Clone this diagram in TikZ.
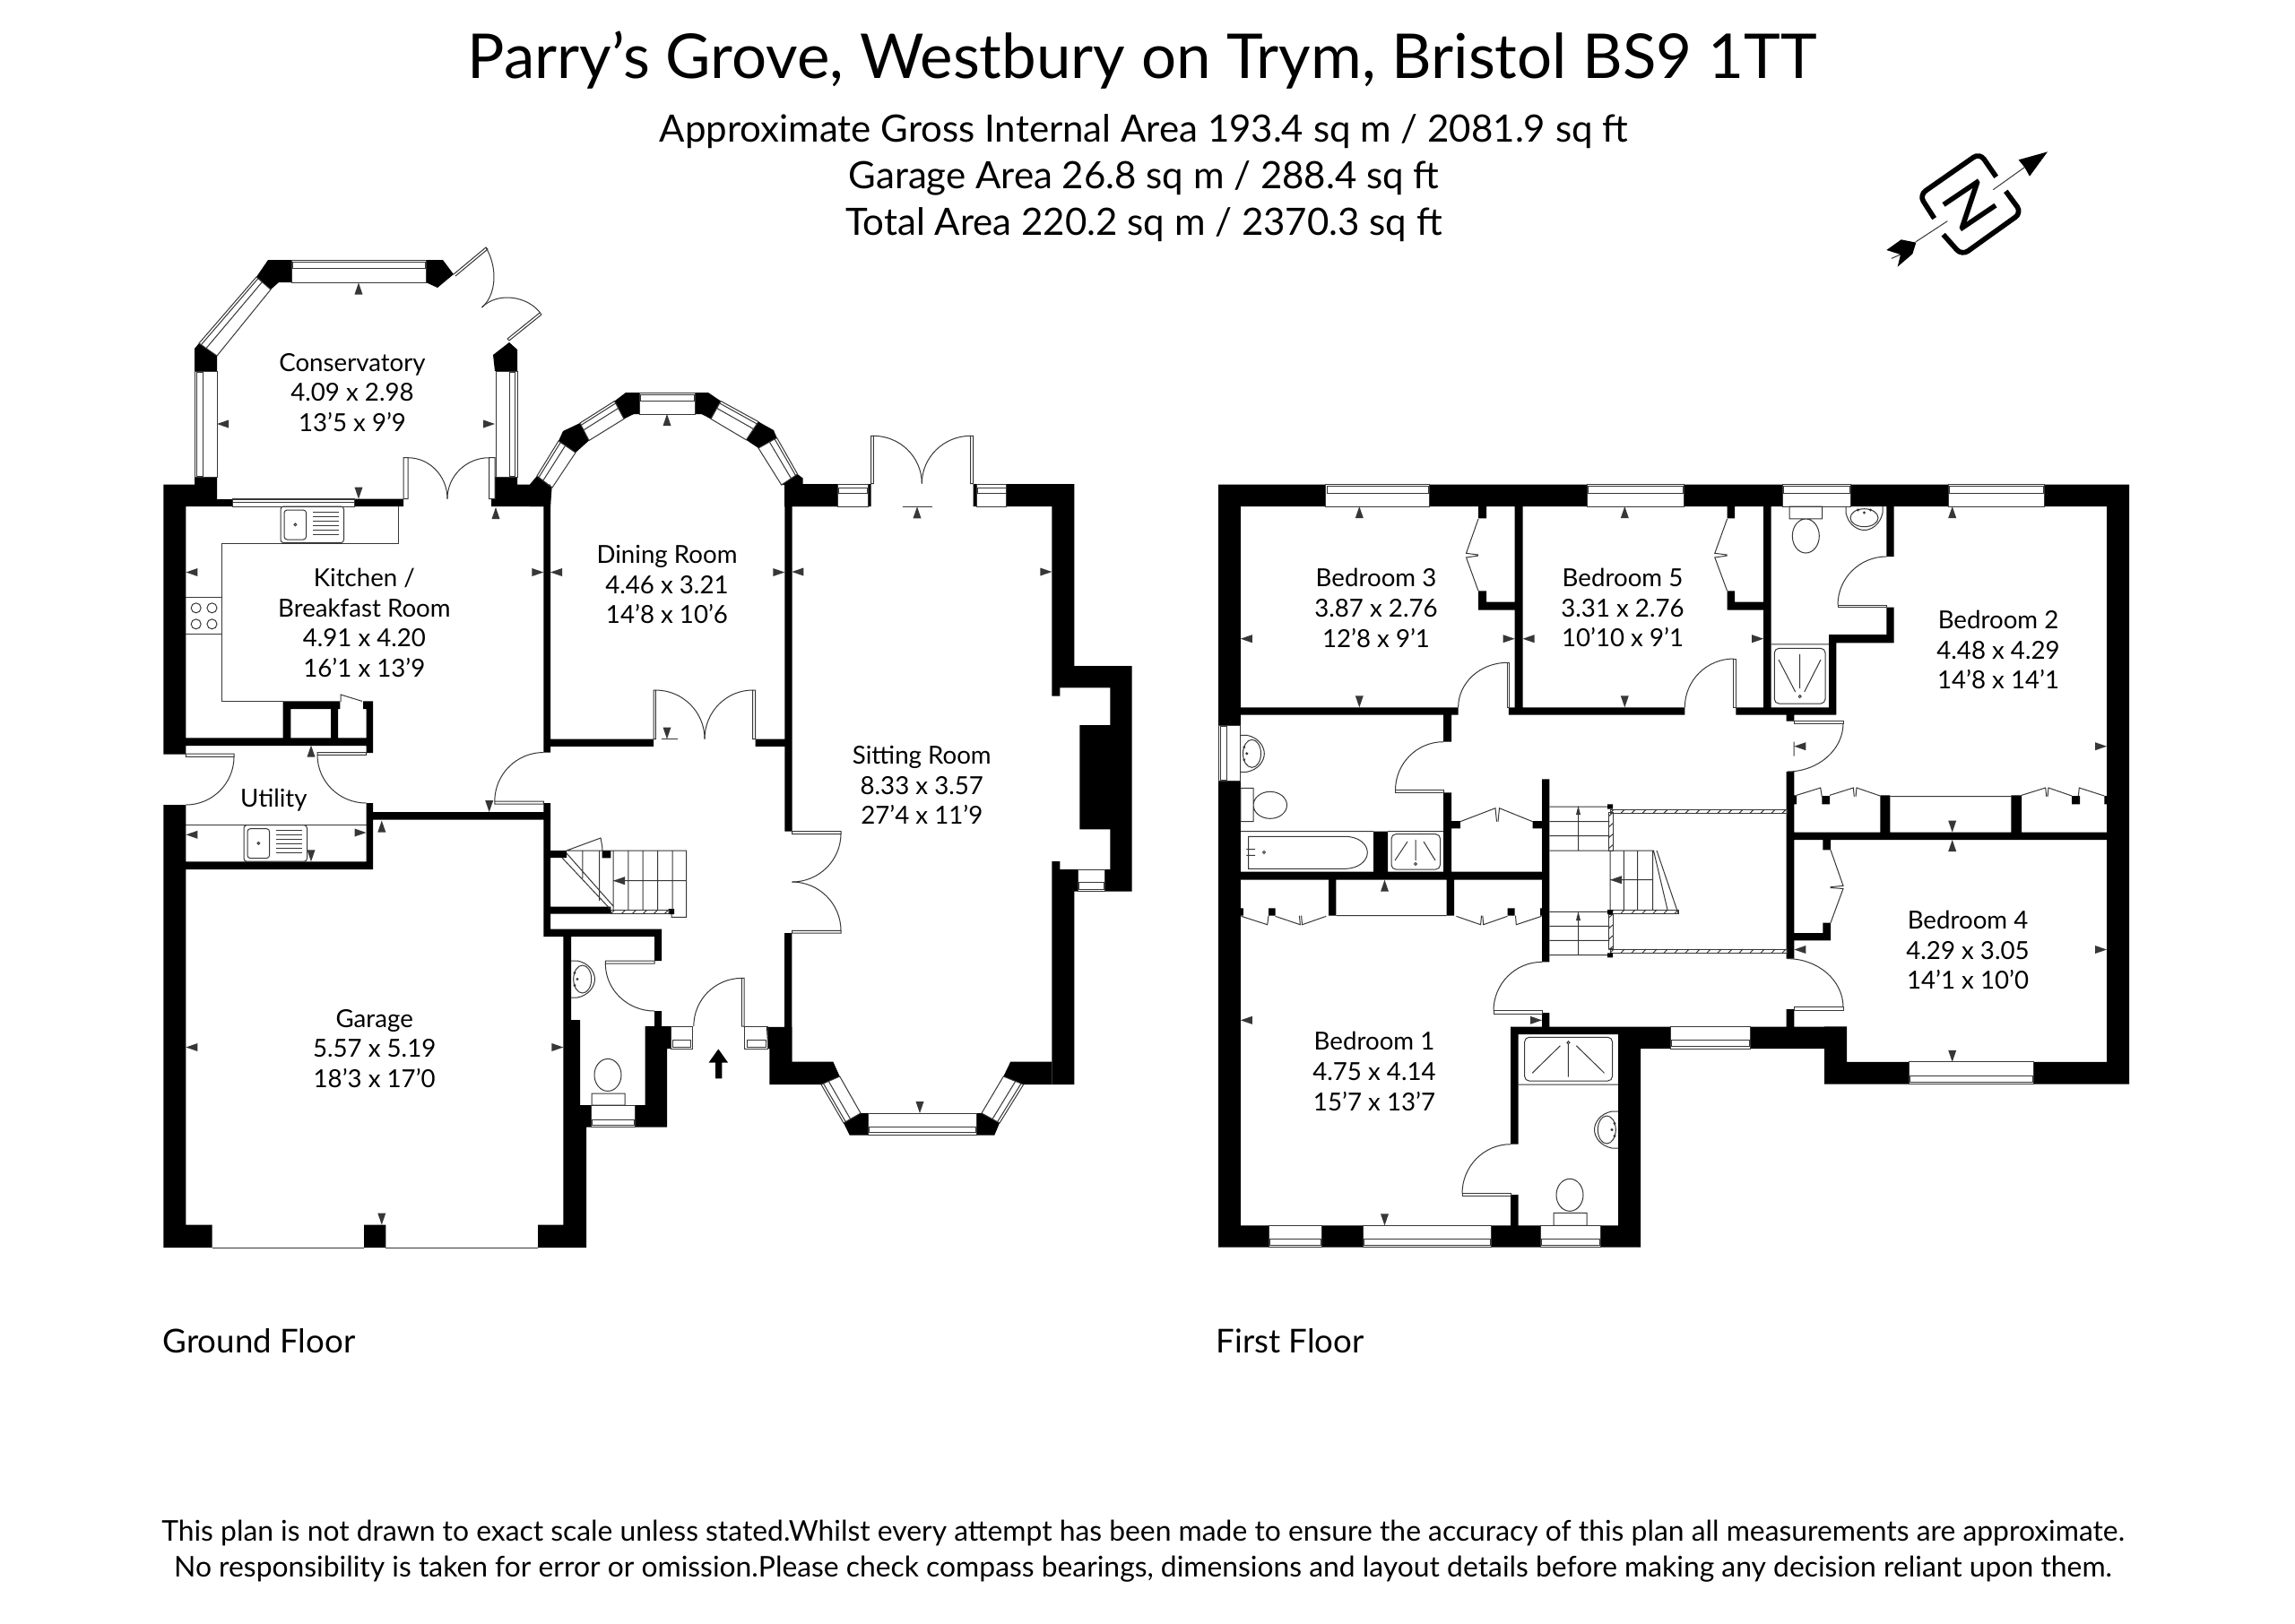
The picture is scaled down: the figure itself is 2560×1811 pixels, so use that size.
\documentclass[tikz,border=0pt]{standalone}
\usepackage{fontspec}
\setmainfont{Lato}
\usetikzlibrary{calc}
\definecolor{planGrey}{RGB}{55,55,55}

\tikzset{
    wall/.style={fill=black, draw=none},
    plan/.style={draw=planGrey, line width=0.3pt},
    roomLabel/.style={align=center, inner sep=0pt, font=\fontsize{8.3}{10.1}\selectfont},
    sinkUnit/.pic={
        \draw[plan, rounded corners=1pt] (0,0) rectangle (70.5,40.6);
        \draw[plan, rounded corners=1pt] (4,4) rectangle (28.6,37);
        \draw[plan] (16.4,20.3) circle [radius=1.4];
        \draw[plan] (36,6) -- (65.4,6) (36,11) -- (65.4,11) (36,16) -- (65.4,16) (36,21) -- (65.4,21) (36,26) -- (65.4,26) (36,31) -- (65.4,31);
    },
    basinUnit/.pic={
        \draw[plan] (0,-20.5) -- (7,-20.5) .. controls (20,-18) and (26.5,-8) .. (26.5,0) .. controls (26.5,8) and (20,18) .. (7,20.5) -- (0,20.5);
        \draw[plan] (12.7,0) ellipse [x radius=10, y radius=15.5];
        \fill[planGrey] (4,-7) circle [radius=1.6] (4,7) circle [radius=1.6];
        \draw[plan] (7,0) circle [radius=1];
    }
}

\newcommand{\doorswing}[4]{\draw[plan] (#1,#2) .. controls ({#1+0.552*(#3-#1)},#2) and (#3,{#4+0.552*(#2-#4)}) .. (#3,#4);}
\newcommand{\windowbox}[8]{\draw[plan] (#1,#2) rectangle (#3,#4) (#5,#6) rectangle (#7,#8);}
\newcommand{\windiag}[4]{\draw[plan] #1 -- #2 -- #3 -- #4 -- cycle ($#1!0.12!#4$) -- ($#2!0.12!#3$) ($#1!0.4!#4$) -- ($#2!0.4!#3$);}
\newcommand{\planmark}[3]{\fill[planGrey, shift={(#1,#2)}, rotate=#3] (0,0) -- (-13,4.5) -- (-13,-4.5) -- cycle;}
\newcommand{\railH}[4]{\draw[plan] (#1,#3) rectangle (#2,#4); \pgfmathsetmacro{\railNext}{#1+12} \foreach \t in {#1,\railNext,...,#2} {\draw[plan] (\t,#4) -- ({\t+4},#3);}}
\newcommand{\railV}[4]{\draw[plan] (#1,#3) rectangle (#2,#4); \pgfmathsetmacro{\railNext}{#3+12} \foreach \t in {#3,\railNext,...,#4} {\draw[plan] (#1,{\t+4}) -- (#2,\t);}}

\begin{document}
\begin{tikzpicture}[x=0.3pt, y=-0.3pt]
    \useasboundingbox[fill=white] (0,0) rectangle (2560,1811);

    % headings
    \node[font=\fontsize{20.7}{26}\selectfont] (titleText) at (1274,67) {Parry’s Grove, Westbury on Trym, Bristol BS9 1TT};
    \node[align=center, font=\fontsize{12.6}{15.6}\selectfont] (areaText) at (1276,199) {Approximate Gross Internal Area 193.4 sq m / 2081.9 sq ft\\Garage Area 26.8 sq m / 288.4 sq ft\\Total Area 220.2 sq m / 2370.3 sq ft};
    \node[anchor=west, inner sep=0pt, font=\fontsize{11}{13}\selectfont] (groundText) at (181,1496) {Ground Floor};
    \node[anchor=west, inner sep=0pt, font=\fontsize{11}{13}\selectfont] (firstText) at (1356,1496) {First Floor};
    \node[align=center, font=\fontsize{9.55}{12}\selectfont] (noteText) at (1275,1731) {This plan is not drawn to exact scale unless stated.Whilst every attempt has been made to ensure the accuracy of this plan all measurements are approximate.\\No responsibility is taken for error or omission.Please check compass bearings, dimensions and layout details before making any decision reliant upon them.};

    % compass
    \begin{scope}[shift={(2080,150)}, scale=0.3333]
        \draw[line width=1.7pt, rounded corners=2.5pt] (233,281) -- (183,203) -- (385,62) -- (440,142);
        \draw[line width=1.7pt, rounded corners=2.5pt] (472,190) -- (525,262) -- (325,405) -- (263,335);
        \node[rotate=-56, inner sep=0pt, font=\fontsize{20}{20}\selectfont] (compassN) at (352,237) {N};
        \draw[plan] (430,185) -- (535,110) (170,360) -- (277,290) (90,415) -- (120,402);
        \fill (515,85) -- (612,58) -- (552,140) -- (535,110) -- cycle;
        \fill (73,387) -- (122,352) -- (172,362) -- (160,400) -- (110,443) -- (120,402) -- cycle;
    \end{scope}

    % ground floor walls
    \fill[wall] (182.4,540.5) rectangle (217,565) (182.4,565) rectangle (207.4,841.7)
        (217,532) rectangle (242,565) (242,557) rectangle (259.5,565) (395,556.6) rectangle (450,565)
        (548,556.6) rectangle (606,565) (552,532) rectangle (577,556.6) (577,540.5) rectangle (614,565)
        (606.4,565) rectangle (614,839.5) (614,824.5) rectangle (729,832.8) (842.5,824.5) rectangle (875.3,832.8)
        (875.3,540) rectangle (883.5,927.7) (606.4,896) rectangle (614,1045) (416,906) rectangle (606.4,914.7)
        (408.5,896) rectangle (416,970) (405,782.4) rectangle (416,791) (408.5,791) rectangle (416,840)
        (207.4,823.3) rectangle (416,832) (315.6,782.4) rectangle (379.4,791) (315.6,791) rectangle (324.3,823.3)
        (369,791) rectangle (377,823.3) (207.4,961.3) rectangle (416,970) (182.4,898) rectangle (207.4,1392)
        (207.4,1366.6) rectangle (236.5,1392) (406,1366.6) rectangle (430.4,1392) (600,1366.6) rectangle (654,1392)
        (628.4,1045) rectangle (637,1138) (628.4,1138) rectangle (647,1233) (628.4,1233) rectangle (659,1257.5)
        (628.4,1257.5) rectangle (654,1392) (606.4,1036.5) rectangle (738,1045) (730,1045) rectangle (738,1072)
        (614,949) rectangle (632,957) (671.7,949) rectangle (681.4,957.4) (614,1011.5) rectangle (681.4,1019.5)
        (745.7,1014) rectangle (752,1020) (730,1128) rectangle (738,1145) (719.7,1145) rectangle (748,1170)
        (719.7,1170) rectangle (744,1257.5) (708.5,1233) rectangle (744,1257.5)
        (875,540) rectangle (934,565) (968.3,540) rectangle (971.7,565) (1085.7,540) rectangle (1089.3,565)
        (1122.7,540) rectangle (1198.3,565) (1173.3,565) rectangle (1198.3,743) (1173.3,743) rectangle (1262.7,767.4)
        (1173.3,767.4) rectangle (1182.3,776.6) (1238.3,767.4) rectangle (1262.7,994.6) (1204.3,809) rectangle (1238.3,925.4)
        (1173.3,961) rectangle (1182.3,970) (1173.3,970) rectangle (1202.7,994.6) (1232,970) rectangle (1238.3,994.6)
        (1173.3,994.6) rectangle (1198.3,1210) (875,1041) rectangle (883.3,1184.5);
    \fill[wall] (299,290) -- (325,290) -- (325,315) -- (311,315) -- (302,323) -- (286,309) -- cycle;
    \fill[wall] (475,290) -- (494,290) -- (506,306) -- (488,321) -- (475,315) -- cycle;
    \fill[wall] (222,383) -- (242,397) -- (242,414) -- (217,414) -- (217,389) -- cycle;
    \fill[wall] (550,396) -- (568,382) -- (577,390) -- (577,414) -- (552,414) -- cycle;
    \fill[wall] (591,540.5) -- (599,531) -- (615.6,544) -- (614,565) -- (591,565) -- cycle;
    \fill[wall] (623,492) -- (628,481) -- (647,472) -- (657,491.5) -- (642,505) -- cycle;
    \fill[wall] (685.5,447.5) -- (698,438) -- (713.5,438) -- (713.5,462) -- (707,462) -- (696,467.4) -- cycle;
    \fill[wall] (775,438) -- (790,438) -- (804,447.5) -- (793,467.4) -- (782.4,462) -- (775,462) -- cycle;
    \fill[wall] (846,470.5) -- (863,480) -- (866.6,488.5) -- (846,500) -- (832.4,490.8) -- cycle;
    \fill[wall] (889.6,529) -- (895.7,533.6) -- (895.7,540.5) -- (934,540.5) -- (934,565) -- (875.3,565) -- (875.3,541) -- (871.7,541) -- cycle;
    \fill[wall] (855,1145.9) -- (883.3,1145.9) -- (883.3,1184.5) -- (929.3,1184.5) -- (936.7,1201) -- (916,1210) -- (858.3,1210) -- (858.3,1170) -- (856.4,1170) -- cycle;
    \fill[wall] (1173.3,1184.5) -- (1127.3,1184.5) -- (1119.3,1201) -- (1141.7,1210) -- (1173.3,1210) -- cycle;
    \fill[wall] (1095,1242) -- (1115,1253) -- (1109.3,1266.5) -- (1089.3,1266.5) -- (1089.3,1242) -- cycle;
    \fill[wall] (968.7,1242) -- (960,1242) -- (941,1253) -- (947.7,1266.5) -- (968.7,1266.5) -- cycle;

    % ground floor windows
    \windowbox{325}{290}{475}{315}{326}{292.5}{474}{299.4}
    \windowbox{217}{414}{242}{532}{219}{415}{226}{531}
    \windowbox{553}{414}{577}{532}{568}{415}{574}{531}
    \windowbox{259.5}{556.6}{395}{565}{259.5}{557.5}{395}{560}
    \windowbox{713.5}{438}{775}{462}{714}{440}{774.5}{447}
    \windowbox{934}{540}{968.3}{565}{935}{544}{967.5}{550}
    \windowbox{1089.3}{540}{1122.7}{565}{1090}{544}{1122}{550}
    \windowbox{1202.7}{970}{1232}{994.6}{1203.5}{984}{1231}{992}
    \windowbox{968.7}{1242}{1089.3}{1266.5}{969.5}{1257}{1088.5}{1263}
    \windowbox{748}{1145}{772}{1170}{750}{1160}{770}{1168}
    \windowbox{830}{1145}{856.4}{1170}{833}{1160}{854}{1168}
    \windowbox{659}{1233}{708.5}{1257.5}{660}{1249}{707.5}{1255}
    \windiag{(286,309)}{(222,383)}{(242,397)}{(302,323)}
    \windiag{(599,531)}{(623,492)}{(642,505)}{(616,544)}
    \windiag{(647,472)}{(685.5,447.5)}{(696,467.4)}{(657,491.5)}
    \windiag{(804,447.5)}{(846,470.5)}{(832.4,490.8)}{(793,467.4)}
    \windiag{(866.6,488.5)}{(889.6,529)}{(871.7,541)}{(846,500)}
    \windiag{(916,1210)}{(941,1253)}{(960,1242)}{(936.7,1201)}
    \windiag{(1141.7,1210)}{(1115,1253)}{(1095,1242)}{(1119.3,1201)}

    % ground floor doors
    \draw[plan] (450,510.7) rectangle (455,556.6) (545.7,510.7) rectangle (552,556.6)
        (729,770) rectangle (731.4,824.5) (839.6,770) rectangle (842.5,824.5)
        (971.7,486.3) rectangle (974.3,539.6) (1082.7,486.3) rectangle (1085.7,539.6)
        (883.5,927.7) rectangle (938,930.5) (883.5,1038.4) rectangle (938,1041)
        (551.8,894) rectangle (606.4,897) (207.4,841) rectangle (261,844.3) (354,839.5) rectangle (408.5,842.3)
        (675.3,1072) rectangle (730,1075) (827.3,1091.4) rectangle (830,1145)
        (506,306) -- (542,276) -- (544,278) -- (508,308) (604,351) -- (568,380) -- (566,378) -- (602,349)
        (380,783) -- (380,775) -- (404,782.4);
    \doorswing{455}{510.7}{499}{556.6}
    \doorswing{545.7}{510.7}{499}{556.6}
    \doorswing{731.4}{770}{786}{824.5}
    \doorswing{839.6}{770}{786}{824.5}
    \doorswing{974.3}{486.3}{1028.3}{539.6}
    \doorswing{1082.7}{486.3}{1028.3}{539.6}
    \doorswing{883.5}{984}{938}{930}
    \doorswing{883.5}{984}{938}{1038.4}
    \doorswing{606.4}{839.5}{551.8}{894}
    \doorswing{207.4}{898}{261}{844.3}
    \doorswing{408.5}{896}{354}{842.3}
    \doorswing{730}{1128}{675.3}{1075}
    \doorswing{827.3}{1091.4}{773.8}{1145}
    \draw[plan] (542,276) .. controls (556,300) and (553,330) .. (537.5,343);
    \draw[plan] (604,351) .. controls (590,330) and (555,325) .. (537.5,343);

    % ground floor fittings
    \draw[plan] (444,565) -- (444,606.3) -- (247.8,606.3) -- (247.8,782.4) -- (315.6,782.4)
        (207.4,666.4) -- (247.8,666.4) (207.4,707) -- (247.8,707)
        (207.4,920.6) -- (408.5,920.6)
        (236.5,1392) -- (406,1392) (430.4,1392) -- (600,1392)
        (738,824.5) -- (756,824.5) (1006.7,565.3) -- (1040,565.3);
    \draw[plan] (218.7,678.3) circle [radius=5.5] (236.5,678.3) circle [radius=5.5] (218.7,696.3) circle [radius=5.5] (236.5,696.3) circle [radius=5.5];
    \pic at (313,565) {sinkUnit};
    \pic at (272,920.6) {sinkUnit};
    \pic at (637,1092.5) {basinUnit};
    \draw[plan] (660,1220) rectangle (697,1233) (678,1199.4) ellipse [x radius=15, y radius=18];

    % ground floor stairs
    \draw[plan] (632,949) -- (765.6,949) -- (765.6,1023.4) -- (749,1023.4) -- (749,1019.5)
        (684,949) -- (684,1015.5) (700.8,949) -- (700.8,1015.5) (717,949) -- (717,1015.5) (733.5,949) -- (733.5,1015.5) (750,949) -- (750,1015.5)
        (649.8,949) -- (649.8,980) (668.7,949) -- (668.7,1005) (684,982.7) -- (765.6,982.7)
        (627,957) -- (680,1013.5) (632,952) -- (684.5,1011.5)
        (632,949) -- (670,935) .. controls (671,940) and (672,945) .. (672,949);
    \railH{681.4}{746}{1015.5}{1019.5}
    \planmark{684}{982.7}{180}
    \fill (798,1185.5) rectangle (805.4,1203.3) (790.6,1185.5) -- (801.3,1170.5) -- (812,1185.5) -- cycle;

    % ground floor markers
    \planmark{400}{315.5}{90} \planmark{242}{473}{180} \planmark{552}{473}{0} \planmark{400}{556.6}{-90}
    \planmark{553}{566}{90} \planmark{207.4}{638.5}{180} \planmark{606.4}{638.5}{0} \planmark{545.7}{906}{-90}
    \planmark{347}{831.6}{90} \planmark{207.4}{931.3}{180} \planmark{408.5}{929}{0} \planmark{347}{961.3}{-90}
    \planmark{425.8}{915.5}{90} \planmark{207.4}{1168.5}{180} \planmark{628.4}{1168.5}{0} \planmark{425.8}{1366.6}{-90}
    \planmark{614}{638.5}{180} \planmark{875.3}{638.5}{0} \planmark{744}{462}{90} \planmark{744}{824.5}{-90}
    \planmark{883.3}{638}{180} \planmark{1173.3}{638}{0} \planmark{1023}{565.3}{90} \planmark{1026}{1242}{-90}

    % first floor walls
    \fill[wall] (1359.2,540.7) rectangle (1478.4,565) (1594.5,540.7) rectangle (1770,565) (1878,540.7) rectangle (1988.3,565)
        (2064,540.7) rectangle (2173.3,565) (2280,540.7) rectangle (2375,565)
        (1359.2,565) rectangle (1383.8,809.3) (1359.2,871.7) rectangle (1383.8,1391.7) (2350,565) rectangle (2375,1209.6)
        (2035,1184.8) rectangle (2129,1209.6) (2268.3,1184.8) rectangle (2375,1209.6) (2035,1145.4) rectangle (2060,1184.8)
        (1805,1145.7) rectangle (1863.2,1170) (1952.5,1145.7) rectangle (2060,1170)
        (1685,1145.7) rectangle (1805,1154) (1685,1154) rectangle (1693.6,1276.7) (1685,1333) rectangle (1693.6,1367.3)
        (1805,1154) rectangle (1830,1391.7)
        (1359.2,1367.3) rectangle (1415,1391.7) (1474,1367.3) rectangle (1520,1391.7) (1663.7,1367.3) rectangle (1718,1391.7) (1785,1367.3) rectangle (1830,1391.7)
        (1383.8,789.3) rectangle (1626.6,797.7) (1682.9,789.3) rectangle (1879.3,797.7) (1936.4,789.3) rectangle (2048.3,797.7)
        (1689.6,565) rectangle (1698.5,789.3) (1967.2,565) rectangle (1975.5,790)
        (1649,565) rectangle (1658,578.3) (1649,659.3) rectangle (1658,680.7) (1658,671.7) rectangle (1689.6,680.7)
        (1926.6,565) rectangle (1935,578.3) (1926.6,659.3) rectangle (1935,680.7) (1935,671.7) rectangle (1967.2,680.7)
        (2104.3,565) rectangle (2112.7,621) (2104.3,677.5) rectangle (2112.7,717.4) (2040,708.2) rectangle (2104.3,717.4) (2040,717.4) rectangle (2048.3,797.7)
        (1992.7,797.7) rectangle (2001.3,804.7) (1992.7,861) rectangle (2001.3,1069.6) (1992.7,1126) rectangle (2001.3,1145.7)
        (2001.3,928.6) rectangle (2350,937) (2097.3,887.3) rectangle (2108.3,928.6) (2243.3,887.3) rectangle (2255,928.6)
        (2001.3,887.3) rectangle (2004,897.4) (2032.3,888) rectangle (2041,897.4) (2311,888) rectangle (2320,897.4) (2347.3,888) rectangle (2350,897.4)
        (2033.3,937) rectangle (2042,948.4) (2033.3,1029.6) rectangle (2042,1049.4) (2001.3,1041) rectangle (2033.3,1049.4)
        (1610,797.7) rectangle (1619,827.7) (1610,884.3) rectangle (1619,973.3) (1532,927.7) rectangle (1548,973.3)
        (1383.8,972.7) rectangle (1728.4,981.7) (1720,869.3) rectangle (1728.4,1073.3) (1720,1130) rectangle (1728.4,1145.7)
        (1619,916) rectangle (1628.8,924.3) (1709.6,916) rectangle (1720,924.3)
        (1482,981.7) rectangle (1490.4,1021.7) (1613.7,981.7) rectangle (1622,1021.7) (1415,1013.3) rectangle (1422.6,1021.7)
        (1681.5,1013.3) rectangle (1689.6,1021.7) (1383.8,1013.3) rectangle (1386.9,1021.7) (1718,1013.3) rectangle (1720,1021.7);

    % first floor windows
    \windowbox{1478.4}{540.7}{1594.5}{565}{1480}{542.7}{1593}{550}
    \windowbox{1770}{540.7}{1878}{565}{1771}{542.7}{1877}{550}
    \windowbox{1988.3}{540.7}{2064}{565}{1989}{542.7}{2063}{550}
    \windowbox{2173.3}{540.7}{2280}{565}{2174}{542.7}{2279}{550}
    \windowbox{1359.2}{809.3}{1383.8}{871.7}{1361.5}{810.5}{1368.6}{870.5}
    \windowbox{1415}{1367.3}{1474}{1391.7}{1416}{1382.7}{1473}{1389.3}
    \windowbox{1520}{1367.3}{1663.7}{1391.7}{1521}{1382.7}{1662.7}{1389.3}
    \windowbox{1718}{1367.3}{1785}{1391.7}{1719}{1382.7}{1784}{1389.3}
    \windowbox{1863.2}{1145.7}{1952.5}{1170}{1864}{1160.7}{1951.5}{1167.3}
    \windowbox{2129}{1184.8}{2268.3}{1209.6}{2130}{1200}{2267}{1207}

    % first floor doors
    \draw[plan] (1681.5,739.3) rectangle (1683.8,789.3) (1933.8,735) rectangle (1936.4,789.3)
        (1556.5,881.7) rectangle (1610,884.3) (1666,1127.7) rectangle (1720,1131) (1631,1331.7) rectangle (1685,1334)
        (2001.3,804.7) rectangle (2056,807) (2001.3,1123.8) rectangle (2056,1127) (2050,675) rectangle (2104.3,677.5);
    \doorswing{1681.5}{739.3}{1626.6}{789.3}
    \doorswing{1933.8}{735}{1879.3}{789.3}
    \doorswing{1610}{827.7}{1556.5}{881.7}
    \doorswing{1720}{1073.3}{1666}{1127.7}
    \doorswing{1685}{1276.7}{1631}{1331.7}
    \doorswing{1993.3}{861}{2056}{807}
    \doorswing{1993.3}{1069.6}{2056}{1123.8}
    \doorswing{2104.3}{621}{2050}{675}

    % first floor wardrobes
    \draw[plan] (1649,579) -- (1635.5,617.3) -- (1649,619) (1649,620) -- (1635.5,622) -- (1649,659.3)
        (1926.6,579) -- (1912.8,617.3) -- (1926.6,619) (1926.6,620) -- (1912.8,622) -- (1926.6,659.3)
        (1628.8,916.7) -- (1668,901.7) -- (1669.5,916.7) (1671,916.7) -- (1672.5,901.7) -- (1709.6,916.7)
        (1384.6,1022.3) -- (1413.7,1031.7) -- (1415,1021.7) (1422.6,1022.3) -- (1450.3,1031.7) -- (1449.4,1021.7) (1451.6,1021.7) -- (1452.5,1031.7) -- (1479.3,1022.3)
        (1490.4,1021.7) -- (1613.7,1021.7)
        (1624.4,1022.3) -- (1651.6,1031.7) -- (1652.5,1021.7) (1653.8,1021.7) -- (1654.7,1031.7) -- (1681.5,1022.3) (1690.5,1021.7) -- (1691.3,1031.7) -- (1719.5,1022.3)
        (2004,887.3) -- (2030.7,879) -- (2032.3,889) (2041,887.3) -- (2067.3,879) -- (2068.3,888.7) (2070,888.7) -- (2071,879) -- (2097.3,888)
        (2108.3,888.7) -- (2243.3,888.7)
        (2255,887.3) -- (2281.7,879) -- (2282.7,888.7) (2284,888.7) -- (2285,879) -- (2311,888) (2318.3,888.7) -- (2319.3,879) -- (2347.3,888)
        (2042,948.4) -- (2056,988.3) -- (2041.7,989.7) (2041.7,990.5) -- (2056,991.5) -- (2042,1029.6);

    % first floor fittings
    \draw[plan] (1383.8,927.7) -- (1532,927.7) (1548,927.7) -- (1610,927.7) (1975.5,718.8) -- (2040,718.8) (1693.6,1210) -- (1805,1210)
        (1383.8,879.3) rectangle (1398,916.7) (1416.8,898.3) ellipse [x radius=18.7, y radius=15]
        (1392.7,933.3) -- (1500,933.3) .. controls (1516,933.3) and (1525.3,942) .. (1525.3,951.3) .. controls (1525.3,960) and (1516,969.3) .. (1500,969.3) -- (1392.7,969.3) -- cycle
        (1390.4,947.7) -- (1400,947.7) (1390.4,954.3) -- (1400,954.3) (1410,951) circle [radius=1.5]
        (1996,565) rectangle (2032.7,578.8) (2014.3,598) ellipse [x radius=15, y radius=19]
        (1733,1353.3) rectangle (1770,1367.3) (1751,1333.3) ellipse [x radius=15, y radius=18]
        (2001,827.6) -- (2001,843.7);
    \pic at (1383.8,840.8) {basinUnit};
    \pic[rotate=180] at (1805,1260.5) {basinUnit};
    \pic[rotate=-90] at (2079.5,565) {basinUnit};
    \draw[plan, rounded corners=1.5pt] (1552,930.7) rectangle (1606.5,970) (1979.3,723.4) rectangle (2036,785) (1700.7,1157.3) rectangle (1798.5,1206);
    \draw[plan] (1579,937) -- (1579,960) (1570,939) -- (1556,960) (1588,939) -- (1601,960) (1579,964) circle [radius=1.5]
        (2007.7,730) -- (2007.7,768) (1984,736) -- (2002.7,772) (2031,736) -- (2012.7,772) (2007.7,777) circle [radius=1.5]
        (1749.4,1165) -- (1749.4,1201.7) (1740.4,1166.7) -- (1709.2,1197.3) (1758.3,1166.7) -- (1789.6,1197.3) (1749.4,1163.3) circle [radius=1.5];

    % first floor stairs
    \draw[plan] (1728.4,900) -- (1795.4,900) (1728.4,916.7) -- (1795.4,916.7) (1728.4,932.7) -- (1795.4,932.7) (1728.4,949) -- (1845,949)
        (1728.4,1017.3) -- (1795.4,1017.3) (1728.4,1033.3) -- (1795.4,1033.3) (1728.4,1049.3) -- (1795.4,1049.3) (1728.4,1065.7) -- (1795.4,1065.7)
        (1796,949) -- (1796,1015) (1811.4,949) -- (1811.4,1015) (1826.6,949) -- (1826.6,1015) (1843.6,949) -- (1843.6,1015)
        (1796,981.7) -- (1843.6,981.7) (1844.5,949) -- (1860,1015) (1848,949) -- (1872,1019.3)
        (1760.5,949) -- (1760.5,905) (1760.5,1065.7) -- (1760.5,1023);
    \railH{1796}{1872}{1015}{1019.3}
    \railV{1794.5}{1799}{906.7}{949}
    \railV{1794.5}{1799}{1020}{1058.3}
    \railH{1796}{1993}{903.3}{907.3}
    \railH{1796}{1993}{1059}{1063.3}
    \fill[wall] (1793,897.3) rectangle (1799,902.7) (1793,1015) rectangle (1799,1020) (1793,1063.3) rectangle (1799,1068.3);
    \planmark{1796}{981.7}{180}
    \fill[planGrey] (1760.5,899) -- (1758,909) -- (1763,909) -- cycle (1760.5,1017) -- (1758,1027) -- (1763,1027) -- cycle;

    % first floor markers
    \planmark{1516.3}{565}{90} \planmark{1383.8}{712.7}{180} \planmark{1689.6}{712.7}{0} \planmark{1516.3}{789.3}{-90}
    \planmark{1812.3}{565}{90} \planmark{1698.5}{712.7}{180} \planmark{1967.2}{712.7}{0} \planmark{1812.3}{789.3}{-90}
    \planmark{2177.7}{565}{90} \planmark{2001.3}{832.7}{180} \planmark{2350}{832.7}{0} \planmark{2177.7}{928.6}{-90}
    \planmark{2177.7}{937}{90} \planmark{2001.3}{1059.5}{180} \planmark{2350}{1059.5}{0} \planmark{2177.7}{1184.8}{-90}
    \planmark{1544.5}{981.7}{90} \planmark{1383.8}{1138.3}{180} \planmark{1720}{1138.3}{0} \planmark{1544.5}{1367.3}{-90}

    % room labels
    \node[roomLabel] (conservatoryText) at (393,438) {Conservatory\\4.09 x 2.98\\13'5 x 9'9};
    \node[roomLabel] (kitchenText) at (406.4,695) {Kitchen /\\Breakfast Room\\4.91 x 4.20\\16'1 x 13'9};
    \node[roomLabel] (diningText) at (744,652) {Dining Room\\4.46 x 3.21\\14'8 x 10'6};
    \node[roomLabel] (utilityText) at (305.4,893) {Utility};
    \node[roomLabel] (garageText) at (417.7,1170) {Garage\\5.57 x 5.19\\18'3 x 17'0};
    \node[roomLabel] (sittingText) at (1028.3,876) {Sitting Room\\8.33 x 3.57\\27'4 x 11'9};
    \node[roomLabel] (bedThreeText) at (1535,678.5) {Bedroom 3\\3.87 x 2.76\\12'8 x 9'1};
    \node[roomLabel] (bedFiveText) at (1810,678) {Bedroom 5\\3.31 x 2.76\\10'10 x 9'1};
    \node[roomLabel] (bedTwoText) at (2229,725) {Bedroom 2\\4.48 x 4.29\\14'8 x 14'1};
    \node[roomLabel] (bedFourText) at (2195,1060) {Bedroom 4\\4.29 x 3.05\\14'1 x 10'0};
    \node[roomLabel] (bedOneText) at (1533,1195.5) {Bedroom 1\\4.75 x 4.14\\15'7 x 13'7};
\end{tikzpicture}
\end{document}
